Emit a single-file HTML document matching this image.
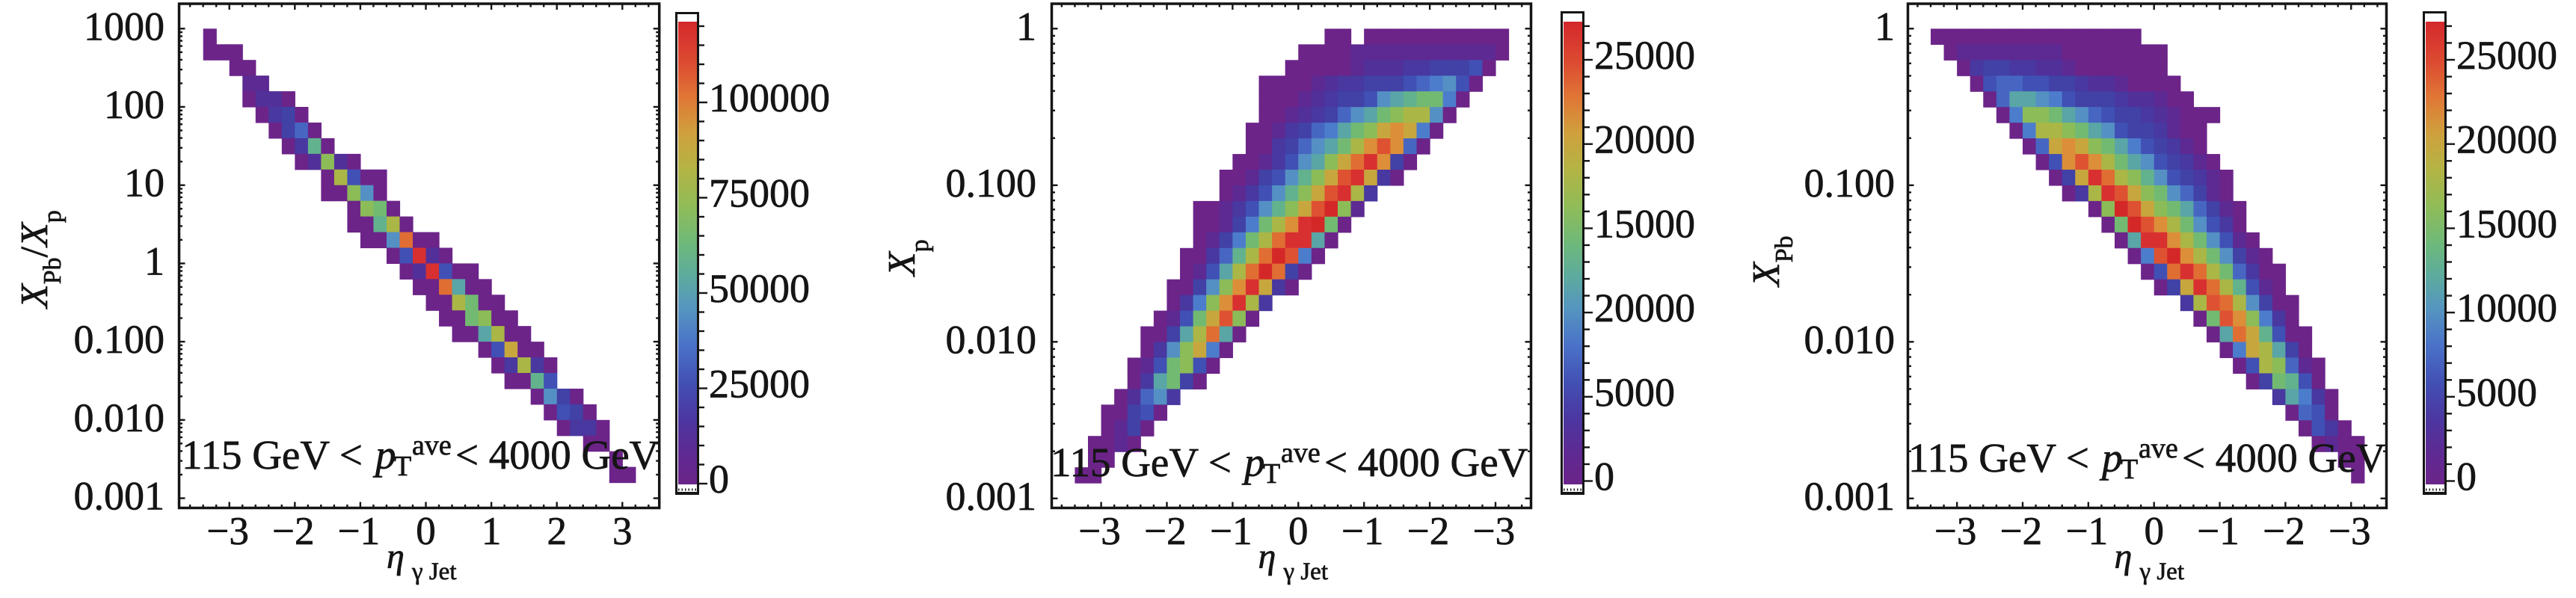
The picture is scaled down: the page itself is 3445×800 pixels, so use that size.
<!DOCTYPE html>
<html>
<head>
<meta charset="utf-8">
<style>
html,body{margin:0;padding:0;background:#ffffff;}
svg{display:block;}
text{font-family:"Liberation Serif","Times New Roman",serif;fill:#151515;stroke:#151515;stroke-width:0.7px;}
</style>
</head>
<body>
<svg id="s" xmlns="http://www.w3.org/2000/svg" width="3445" height="800" viewBox="0 0 3445 800">
<defs>
<linearGradient id="cb" x1="0" y1="1" x2="0" y2="0">
<stop offset="0" stop-color="#6c2489"/>
<stop offset="0.07" stop-color="#5e2a93"/>
<stop offset="0.14" stop-color="#4c36a0"/>
<stop offset="0.22" stop-color="#4250b4"/>
<stop offset="0.30" stop-color="#4a72c8"/>
<stop offset="0.38" stop-color="#5595c0"/>
<stop offset="0.45" stop-color="#5dab9e"/>
<stop offset="0.52" stop-color="#6eb97a"/>
<stop offset="0.60" stop-color="#8fbc58"/>
<stop offset="0.68" stop-color="#b3b444"/>
<stop offset="0.76" stop-color="#d0a03c"/>
<stop offset="0.84" stop-color="#e07436"/>
<stop offset="0.91" stop-color="#dc4c31"/>
<stop offset="1" stop-color="#d4282c"/>
</linearGradient>
</defs>
<rect x="0" y="0" width="3445" height="800" fill="#ffffff"/>
<g id="cells"></g>

<!-- frames -->
<g fill="none" stroke="#151515" stroke-width="3.5">
<rect x="239.5" y="5" width="642.2" height="674.5"/>
<rect x="1406.5" y="5" width="641" height="674.5"/>
<rect x="2551.5" y="5" width="640" height="674.5"/>
</g>

<!-- colorbars -->
<rect x="904.5" y="17.5" width="29" height="643" fill="#ffffff" stroke="#151515" stroke-width="3"/>
<rect x="907" y="29" width="25" height="619" fill="url(#cb)"/>
<line x1="907" y1="655" x2="932" y2="655" stroke="#151515" stroke-width="3" stroke-dasharray="1.5 3"/>
<line x1="903" y1="660" x2="935" y2="660" stroke="#151515" stroke-width="4"/>

<rect x="2088.5" y="16.5" width="29" height="644" fill="#ffffff" stroke="#151515" stroke-width="3"/>
<rect x="2091" y="29" width="25" height="619" fill="url(#cb)"/>
<line x1="2091" y1="655" x2="2116" y2="655" stroke="#151515" stroke-width="3" stroke-dasharray="1.5 3"/>
<line x1="2087" y1="660" x2="2119" y2="660" stroke="#151515" stroke-width="4"/>

<rect x="3241.5" y="16.5" width="29" height="644" fill="#ffffff" stroke="#151515" stroke-width="3"/>
<rect x="3244" y="29" width="25" height="619" fill="url(#cb)"/>
<line x1="3244" y1="655" x2="3269" y2="655" stroke="#151515" stroke-width="3" stroke-dasharray="1.5 3"/>
<line x1="3240" y1="660" x2="3272" y2="660" stroke="#151515" stroke-width="4"/>

<g id="ticks" stroke="#151515" fill="none"></g>

<!-- Panel 1 y tick labels -->
<g font-size="54" text-anchor="end">
<text x="220" y="53.3">1000</text>
<text x="220" y="158">100</text>
<text x="220" y="262.7">10</text>
<text x="220" y="367.4">1</text>
<text x="220" y="472.1">0.100</text>
<text x="220" y="576.8">0.010</text>
<text x="220" y="681.5">0.001</text>
</g>
<!-- Panel 2 y tick labels -->
<g font-size="54" text-anchor="end">
<text x="1386" y="53.3">1</text>
<text x="1386" y="262.8">0.100</text>
<text x="1386" y="472.3">0.010</text>
<text x="1386" y="681.8">0.001</text>
</g>
<!-- Panel 3 y tick labels -->
<g font-size="54" text-anchor="end">
<text x="2534" y="53.3">1</text>
<text x="2534" y="262.8">0.100</text>
<text x="2534" y="472.3">0.010</text>
<text x="2534" y="681.8">0.001</text>
</g>

<!-- x tick labels -->
<g font-size="53" text-anchor="middle">
<text x="304.7" y="728">−3</text>
<text x="392.3" y="728">−2</text>
<text x="479.9" y="728">−1</text>
<text x="569.5" y="728">0</text>
<text x="657.1" y="728">1</text>
<text x="744.7" y="728">2</text>
<text x="832.3" y="728">3</text>

<text x="1470.6" y="728">−3</text>
<text x="1558.5" y="728">−2</text>
<text x="1646.4" y="728">−1</text>
<text x="1736.3" y="728">0</text>
<text x="1822.2" y="728">−1</text>
<text x="1910.1" y="728">−2</text>
<text x="1998" y="728">−3</text>

<text x="2615.2" y="728">−3</text>
<text x="2703" y="728">−2</text>
<text x="2790.9" y="728">−1</text>
<text x="2880.7" y="728">0</text>
<text x="2966.6" y="728">−1</text>
<text x="3054.4" y="728">−2</text>
<text x="3142.3" y="728">−3</text>
</g>

<!-- x axis labels -->
<text x="517" y="760" font-size="48" font-style="italic">η</text>
<text x="551" y="775" font-size="33">γ Jet</text>
<text x="1682.5" y="760" font-size="48" font-style="italic">η</text>
<text x="1716.5" y="775" font-size="33">γ Jet</text>
<text x="2827.5" y="760" font-size="48" font-style="italic">η</text>
<text x="2861.5" y="775" font-size="33">γ Jet</text>

<!-- y axis labels -->
<text transform="translate(63,412) rotate(-90)" font-size="52"><tspan font-style="italic">X</tspan><tspan font-size="34" dy="18">Pb</tspan><tspan dy="-18">/</tspan><tspan font-style="italic">X</tspan><tspan font-size="34" dy="18">p</tspan></text>
<text transform="translate(1223,369) rotate(-90)" font-size="52"><tspan font-style="italic">X</tspan><tspan font-size="34" dy="18">p</tspan></text>
<text transform="translate(2379,383) rotate(-90)" font-size="52"><tspan font-style="italic">X</tspan><tspan font-size="34" dy="18">Pb</tspan></text>

<!-- colorbar labels -->
<g font-size="54">
<text x="948" y="659">0</text>
<text x="948" y="531.5">25000</text>
<text x="948" y="404">50000</text>
<text x="948" y="276.5">75000</text>
<text x="948" y="149">100000</text>

<text x="2132" y="655.5">0</text>
<text x="2132" y="542.8">5000</text>
<text x="2132" y="430.1">20000</text>
<text x="2132" y="317.4">15000</text>
<text x="2132" y="204.7">20000</text>
<text x="2132" y="92">25000</text>

<text x="3285" y="655.5">0</text>
<text x="3285" y="542.8">5000</text>
<text x="3285" y="430.1">10000</text>
<text x="3285" y="317.4">15000</text>
<text x="3285" y="204.7">20000</text>
<text x="3285" y="92">25000</text>
</g>

<!-- annotations -->
<text x="243" y="627" font-size="55">115 GeV &lt;</text>
<text x="502" y="627" font-size="55" font-style="italic">p</text>
<text x="527" y="636" font-size="38">T</text>
<text x="551" y="608" font-size="38">ave</text>
<text x="609" y="627" font-size="55">&lt; 4000 GeV</text>

<text x="1405" y="637" font-size="55">115 GeV &lt;</text>
<text x="1664" y="637" font-size="55" font-style="italic">p</text>
<text x="1689" y="646" font-size="38">T</text>
<text x="1713" y="618" font-size="38">ave</text>
<text x="1771" y="637" font-size="55">&lt; 4000 GeV</text>

<text x="2552" y="631" font-size="55">115 GeV &lt;</text>
<text x="2811" y="631" font-size="55" font-style="italic">p</text>
<text x="2836" y="640" font-size="38">T</text>
<text x="2860" y="612" font-size="38">ave</text>
<text x="2918" y="631" font-size="55">&lt; 4000 GeV</text>
</svg>

<script>
(function(){
var NS="http://www.w3.org/2000/svg";
var pal={P:"#6c2489",Q:"#5c2a92",R:"#52309a",I:"#4838a0",J:"#4141a6",K:"#4050b5",B:"#4766c2",L:"#4c7dcc",S:"#5590c4",T:"#5aa5a6",U:"#62b28e",G:"#72ba72",H:"#8cbc58",Y:"#aab646",O:"#c8a63e",A:"#dc8e38",N:"#e06e33",M:"#de5232",D:"#d83030",E:"#d42828"};
function el(parent,tag,attrs){var e=document.createElementNS(NS,tag);for(var k in attrs)e.setAttribute(k,attrs[k]);parent.appendChild(e);return e;}
var cells=document.getElementById("cells");
function drawCells(data,x0,cw,y0,rh){
  for(var r=0;r<data.length;r++){
    var row=data[r]; if(!row) continue;
    var c0=row[0], s=row[1];
    for(var i=0;i<s.length;i++){
      var ch=s.charAt(i); if(ch==".") continue;
      var x=x0+(c0+i)*cw, y=y0+r*rh;
      el(cells,"rect",{x:x.toFixed(2),y:y.toFixed(2),width:(cw+0.6).toFixed(2),height:(rh+0.6).toFixed(2),fill:pal[ch]});
    }
  }
}
var d1=[[0,"P"],[0,"PPP"],[2,"PP"],[3,"QQ"],[3,"PRRP"],[4,"PIJP"],[5,"PJBP"],[6,"PIUP"],[7,"PRHRP"],[9,"PYKPP"],[9,"PPHSP"],[11,"PHGP"],[11,"PPUYP"],[12,"PPSNPP"],[14,"PKDRP"],[15,"PRDKPP"],[16,"PPNTPP"],[17,"PPYGPP"],[18,"PPGHPP"],[19,"PPTYPP"],[21,"PKOPP"],[22,"PIYIP"],[23,"PPUK"],[25,"PSJP"],[26,"PKJP"],[27,"PIIP"],[29,"PP"],[31,"P"],[31,"PP"]];
var d2=[[19,"PP.PPPPPPPPPPP"],[17,"PPPPQQQQQQQQQQQP"],[16,"PPPPPQRRRIIJJJKP"],[14,"PPPPQRIIJJJKBLSKP"],[14,"PPPQRIJJKSTUGGLP"],[14,"PPQRIJBSTGHYYSP"],[13,"PPQIJBLTGHOAOLP"],[13,"PPIJBSTGYAMABP"],[12,"PPQIKSTHONDAJP"],[11,"PPQJKSUHOMDOIP"],[11,"PQIKSUHOMDYI"],[9,"PPQIKSUHOMEHQ"],[9,"PPQJLGYADEGP"],[9,"PQJLGYNDDTP"],[8,"PPIBUYNEMLP"],[8,"PQKTYNENJP"],[7,"PPJSHADOIP"],[7,"PILHADYI"],[6,"PQKGOMHP"],[5,"PPJTYNTP"],[5,"PISHOLP"],[4,"PQKGHKP"],[4,"PITGJP"],[3,"PRBSI"],[2,"PPJKP"],[2,"PQJP"],[1,"PPQP"],[1,"PP"],[0,"PP"]];
var d3=[[0,"PPPPPPPPPPPPPPPP"],[1,"PQQQQQQQQPPPPPPPP"],[2,"PIJJIIRRQPPPPPPP"],[3,"PKBBKKJJIRRQPPPP"],[4,"PBTTSLKJJJIRRQPP"],[5,"PLHHGTSBKJJIRQPPP"],[6,"PLYYHGTSKJJIQPP"],[7,"PBOAOHGTLKJIQP"],[8,"PKAMAYGTSKJIQP"],[9,"PJODNYHUSKJIQP"],[10,"PIYDMOHGSBJQP"],[12,"PHEMOHGTBJQP"],[13,"PGEMAYGSKIP"],[14,"PTDDAYGSKQP"],[15,"PLMEAYGSJQP"],[16,"PKNDNYGBIPP"],[17,"PJODNYUKQP"],[19,"IYMNYSJPP"],[20,"PGMAHLIP"],[21,"PTNOUKPP"],[22,"PLOYTJP"],[23,"PKYHBQP"],[24,"PJGUKP"],[26,"ITLIP"],[27,"PBKP"],[28,"PKIP"],[29,"PQPP"],[31,"PP"],[32,"P"]];
drawCells(d1,271.7,17.52,38.3,20.94);
drawCells(d2,1437.4,17.58,38.4,20.955);
drawCells(d3,2582,17.57,38.4,20.955);

var tk=document.getElementById("ticks");
function line(x1,y1,x2,y2,w){el(tk,"line",{x1:x1.toFixed(2),y1:y1.toFixed(2),x2:x2.toFixed(2),y2:y2.toFixed(2),"stroke-width":w||2.2});}
function xticks(X0,u,L,R,T,B){
  for(var k=-40;k<=40;k++){
    var v=k/5, x=X0+u*v;
    if(x<L+3||x>R-3) continue;
    var len=(k%5==0)?8:4.5;
    line(x,B,x,B-len,2.4); line(x,T,x,T+len,2.4);
  }
}
function yticks(Y0,dec,dmin,dmax,L,R,T,B){
  for(var d=dmin;d<=dmax;d++){
    for(var m=1;m<10;m++){
      var y=Y0+(dmax-d)*dec-Math.log(m)/Math.LN10*dec;
      if(y<T+3||y>B-3) continue;
      var len=(m==1)?8:4.5;
      line(L,y,L+len,y,2.4); line(R,y,R-len,y,2.4);
    }
  }
}
function cbticks(xr,y0,pxPer,step,majEvery,maxV){
  for(var v=0;v<=maxV+0.1;v+=step){
    var y=y0-v*pxPer;
    var maj=(Math.round(v/step)%majEvery==0);
    line(xr,y,xr+(maj?11:7),y,2.4);
  }
}
xticks(569.5,87.6,239.5,881.7,5,679.5);
yticks(38.3,104.7,-3,3,239.5,881.7,5,679.5);
xticks(1736.3,87.9,1406.5,2047.5,5,679.5);
yticks(38.3,209.5,-3,0,1406.5,2047.5,5,679.5);
xticks(2880.7,87.85,2551.5,3191.5,5,679.5);
yticks(38.3,209.5,-3,0,2551.5,3191.5,5,679.5);
cbticks(935,647,25.5/5000,5000,5,120000);
cbticks(2119,643.5,22.54/1000,1000,5,27000);
cbticks(3272,643.5,22.54/1000,1000,5,27000);
})();
</script>
</body>
</html>
